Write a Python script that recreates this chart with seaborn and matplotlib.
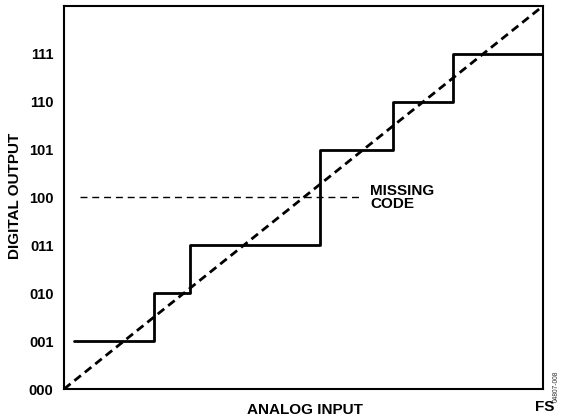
import matplotlib
matplotlib.use("Agg")
import matplotlib.pyplot as plt
import seaborn as sns
import pandas as pd

sns.set_style("white")
plt.rcParams['font.family'] = ['Liberation Sans', 'DejaVu Sans']
plt.rcParams['text.color'] = 'black'
plt.rcParams['xtick.color'] = 'black'
plt.rcParams['ytick.color'] = 'black'

codes = ["000", "001", "010", "011", "100", "101", "110", "111"]
step_x = [0.17, 1.5, 2.1, 4.28, 5.5, 6.5, 8.0]
step_y = [1, 2, 3, 5, 6, 7, 7]
ideal_x = [0, 8]
ideal_y = [0, 8]
missing_x = [0.27, 4.97]
missing_y = [4, 4]
x_ticks = [1, 2, 3, 4, 5, 6]

fig = plt.figure(figsize=(5.63, 4.19), dpi=100)
ax = fig.add_axes([64/563, 1 - 389/419, (543-64)/563, (389-6)/419])

sns.lineplot(x=missing_x, y=missing_y, ax=ax, color="black", lw=1.0,
             linestyle=(0, (5, 3.5)), sort=False)
sns.lineplot(x=step_x, y=step_y, ax=ax, color="black", lw=2.0,
             drawstyle="steps-post", sort=False)
sns.lineplot(x=ideal_x, y=ideal_y, ax=ax, color="black", lw=2.0,
             linestyle=(0, (3.0, 1.8)), sort=False)

ax.set_xlim(0, 8)
ax.set_ylim(0, 8)
ax.set_xticks(x_ticks)
ax.set_xticklabels([])
ax.set_yticks(range(len(codes)))
ax.set_yticklabels(codes, fontsize=10.5, fontweight="bold", color="black")
ax.tick_params(axis="both", direction="inout", length=9, width=1.0, color="black", pad=2)
ax.tick_params(axis="y", pad=3)
for s in ax.spines.values():
    s.set_linewidth(1.5)
    s.set_color("black")

fig.text(15/563, 1 - 196/419, "DIGITAL OUTPUT", rotation=90, ha="center", va="center",
         fontsize=11, fontweight="bold", color="black")
fig.text(305/563, 1 - 410/419, "ANALOG INPUT", ha="center", va="center",
         fontsize=11, fontweight="bold", color="black")
fig.text(545/563, 1 - 407/419, "FS", ha="center", va="center",
         fontsize=11, fontweight="bold", color="black")
fig.text(556/563, 1 - 386/419, "04807-008", rotation=90, ha="center", va="center",
         fontsize=4.8, color="#333333")
ax.text(5.11, 4.0, "MISSING\nCODE", ha="left", va="center", fontsize=11,
        fontweight="bold", linespacing=0.9, color="black")

fig.savefig("out.png", dpi=100)
